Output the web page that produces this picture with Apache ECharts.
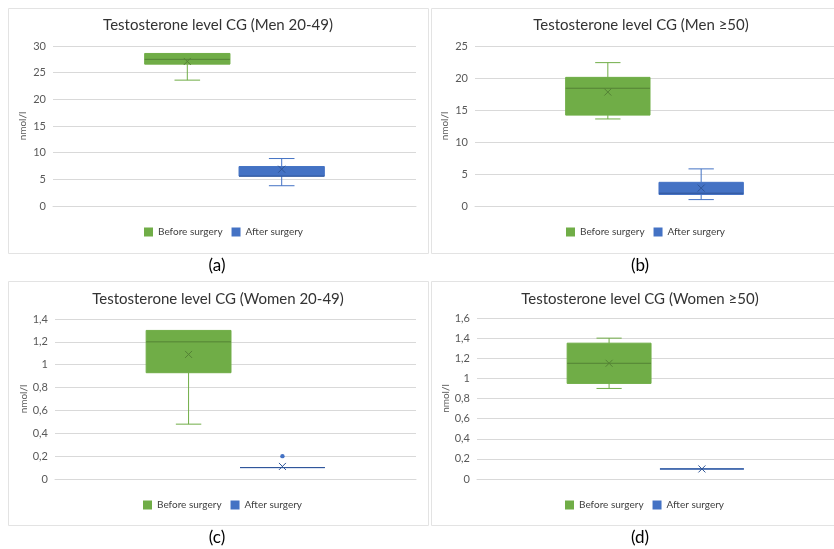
<!DOCTYPE html>
<html>
<head>
<meta charset="utf-8">
<script src="https://cdn.jsdelivr.net/npm/echarts@6/dist/echarts.min.js"></script>
<style>
  html, body { margin: 0; padding: 0; background: #ffffff; }
  #chart { width: 834px; height: 549px; }
</style>
</head>
<body>
<div id="chart"></div>
<script>
// Box statistics per group: [min, Q1, median, Q3, max, mean]
const groups = ['Before surgery', 'After surgery'];
const titles = [
  'Testosterone level CG (Men 20-49)',
  'Testosterone level CG (Men \u226550)',
  'Testosterone level CG (Women 20-49)',
  'Testosterone level CG (Women \u226550)'
];
const captions = ['(a)', '(b)', '(c)', '(d)'];
const unitLabel = 'nmol/l';

const menYoungBefore = [23.6, 26.6, 27.5, 28.6, 28.6, 27.1];
const menYoungAfter = [3.8, 5.6, 5.6, 7.4, 8.9, 6.9];
const menOldBefore = [13.6, 14.2, 18.4, 20.1, 22.4, 17.8];
const menOldAfter = [1.0, 1.8, 2.0, 3.7, 5.8, 2.8];
const womenYoungBefore = [0.48, 0.93, 1.2, 1.3, 1.3, 1.09];
const womenYoungAfter = [0.1, 0.1, 0.1, 0.1, 0.1, 0.11];
const womenYoungAfterOutliers = [0.2];
const womenOldBefore = [0.9, 0.95, 1.15, 1.35, 1.4, 1.15];
const womenOldAfter = [0.1, 0.1, 0.1, 0.1, 0.1, 0.1];

const beforeStats = [menYoungBefore, menOldBefore, womenYoungBefore, womenOldBefore];
const afterStats = [menYoungAfter, menOldAfter, womenYoungAfter, womenOldAfter];
const afterOutliers = [[], [], womenYoungAfterOutliers, []];

// Value axis ranges for the four panels
const yMaxList = [30, 25, 1.4, 1.6];
const yStepList = [5, 5, 0.2, 0.2];

const GREEN = '#70AD47', GREEN_DARK = '#548235';
const BLUE = '#4472C4', BLUE_DARK = '#2F5597';
const FONT = 'Lato, "Open Sans", sans-serif';

// Panel frames, plot areas and text anchors
const panels = [
  { frame: [8, 8, 420, 245], grid: { left: 53, top: 46, width: 363, height: 160 }, titleX: 218, titleY: 18, legendX: 144, legendY: 227, capX: 217, capY: 266 },
  { frame: [431, 8, 405, 245], grid: { left: 475, top: 46, width: 363, height: 160 }, titleX: 641, titleY: 18, legendX: 566, legendY: 227, capX: 640, capY: 266 },
  { frame: [8, 281, 420, 244], grid: { left: 55, top: 319, width: 361, height: 160 }, titleX: 218, titleY: 292, legendX: 143, legendY: 500, capX: 217, capY: 538 },
  { frame: [431, 281, 405, 244], grid: { left: 477, top: 318, width: 360, height: 161 }, titleX: 640, titleY: 292, legendX: 565, legendY: 500, capX: 640, capY: 538 }
];

const BOX_OFFSET = 0.13;   // box centre offset from category centre, as a share of the band
const BOX_HALF = 0.1175;   // half box width, as a share of the band

function fmt(v) {
  return String(+v.toFixed(2)).replace('.', ',');
}

function boxRenderer(offset, color, dark) {
  return function (params, api) {
    const band = api.size([1, 0])[0];
    const cx = api.coord([0, 0])[0] + offset * band;
    const half = band * BOX_HALF;
    const cap = half * 0.3;
    const y = (i) => api.coord([0, api.value(i)])[1];
    const yMin = y(1), yQ1 = y(2), yMed = y(3), yQ3 = y(4), yMax = y(5), yMean = y(6);
    const lineStyle = { stroke: color, lineWidth: 1, fill: null };
    const children = [];
    // whiskers and caps
    if (yMax < yQ3) {
      children.push({ type: 'line', shape: { x1: cx, y1: yQ3, x2: cx, y2: yMax }, style: lineStyle });
      children.push({ type: 'line', shape: { x1: cx - cap, y1: yMax, x2: cx + cap, y2: yMax }, style: lineStyle });
    }
    if (yMin > yQ1) {
      children.push({ type: 'line', shape: { x1: cx, y1: yQ1, x2: cx, y2: yMin }, style: lineStyle });
      children.push({ type: 'line', shape: { x1: cx - cap, y1: yMin, x2: cx + cap, y2: yMin }, style: lineStyle });
    }
    // box
    children.push({
      type: 'rect',
      shape: { x: cx - half, y: yQ3, width: half * 2, height: Math.max(yQ1 - yQ3, 0) },
      style: { fill: color, stroke: color, lineWidth: 1 }
    });
    // median
    children.push({ type: 'line', shape: { x1: cx - half, y1: yMed, x2: cx + half, y2: yMed }, style: { stroke: dark, lineWidth: 1 } });
    // mean marker
    const m = 3.5;
    children.push({ type: 'line', shape: { x1: cx - m, y1: yMean - m, x2: cx + m, y2: yMean + m }, style: { stroke: dark, lineWidth: 1 } });
    children.push({ type: 'line', shape: { x1: cx - m, y1: yMean + m, x2: cx + m, y2: yMean - m }, style: { stroke: dark, lineWidth: 1 } });
    return { type: 'group', children: children };
  };
}

function outlierRenderer(offset, color) {
  return function (params, api) {
    const band = api.size([1, 0])[0];
    const p = api.coord([0, api.value(1)]);
    return { type: 'circle', shape: { cx: p[0] + offset * band, cy: p[1], r: 2.2 }, style: { fill: color } };
  };
}

const grids = [], xAxes = [], yAxes = [], series = [], titleList = [], legends = [], graphics = [];

panels.forEach((p, i) => {
  graphics.push({
    type: 'rect', z: -10, silent: true,
    shape: { x: p.frame[0] + 0.5, y: p.frame[1] + 0.5, width: p.frame[2], height: p.frame[3] },
    style: { fill: '#ffffff', stroke: '#e3e3e3', lineWidth: 1 }
  });
  graphics.push({
    type: 'text', silent: true,
    style: { text: captions[i], x: p.capX, y: p.capY, align: 'center', verticalAlign: 'middle', fill: '#000000', font: '17px ' + FONT }
  });

  grids.push(Object.assign({ containLabel: false }, p.grid));
  xAxes.push({
    type: 'category', gridIndex: i, data: [''],
    axisLine: { show: true, lineStyle: { color: '#d9d9d9' } },
    axisTick: { show: false }, axisLabel: { show: false }, splitLine: { show: false }
  });
  yAxes.push({
    type: 'value', gridIndex: i, min: 0, max: yMaxList[i], interval: yStepList[i],
    name: unitLabel, nameLocation: 'middle', nameGap: 25, nameRotate: 90,
    nameTextStyle: { color: '#595959', fontSize: 10, fontFamily: FONT },
    axisLine: { show: false }, axisTick: { show: false },
    axisLabel: { color: '#595959', fontSize: 11, fontFamily: FONT, margin: 7, formatter: fmt },
    splitLine: { lineStyle: { color: '#d9d9d9', width: 1 } }
  });

  series.push({
    type: 'custom', name: groups[0], xAxisIndex: i, yAxisIndex: i,
    itemStyle: { color: GREEN },
    encode: { x: 0, y: [1, 2, 3, 4, 5, 6] },
    data: [[0].concat(beforeStats[i])],
    renderItem: boxRenderer(-BOX_OFFSET, GREEN, GREEN_DARK)
  });
  series.push({
    type: 'custom', name: groups[1], xAxisIndex: i, yAxisIndex: i,
    itemStyle: { color: BLUE },
    encode: { x: 0, y: [1, 2, 3, 4, 5, 6] },
    data: [[0].concat(afterStats[i])],
    renderItem: boxRenderer(BOX_OFFSET, BLUE, BLUE_DARK)
  });
  if (afterOutliers[i].length) {
    series.push({
      type: 'custom', name: groups[1], xAxisIndex: i, yAxisIndex: i,
      itemStyle: { color: BLUE },
      encode: { x: 0, y: 1 },
      data: afterOutliers[i].map((v) => [0, v]),
      renderItem: outlierRenderer(BOX_OFFSET, BLUE)
    });
  }

  titleList.push({
    text: titles[i], left: p.titleX, top: p.titleY, textAlign: 'center', padding: 0,
    textStyle: { color: '#333333', fontSize: 15, fontWeight: 'normal', fontFamily: FONT }
  });
  legends.push({
    data: groups, left: p.legendX, top: p.legendY, orient: 'horizontal', padding: 0,
    icon: 'rect', itemWidth: 9, itemHeight: 9, itemGap: 9,
    textStyle: { color: '#404040', fontSize: 10, fontFamily: FONT },
    selectedMode: false
  });
});

const chart = echarts.init(document.getElementById('chart'), null, { renderer: 'canvas' });
chart.setOption({
  backgroundColor: '#ffffff',
  animation: false,
  title: titleList,
  legend: legends,
  grid: grids,
  xAxis: xAxes,
  yAxis: yAxes,
  series: series,
  graphic: graphics
});
</script>
</body>
</html>
